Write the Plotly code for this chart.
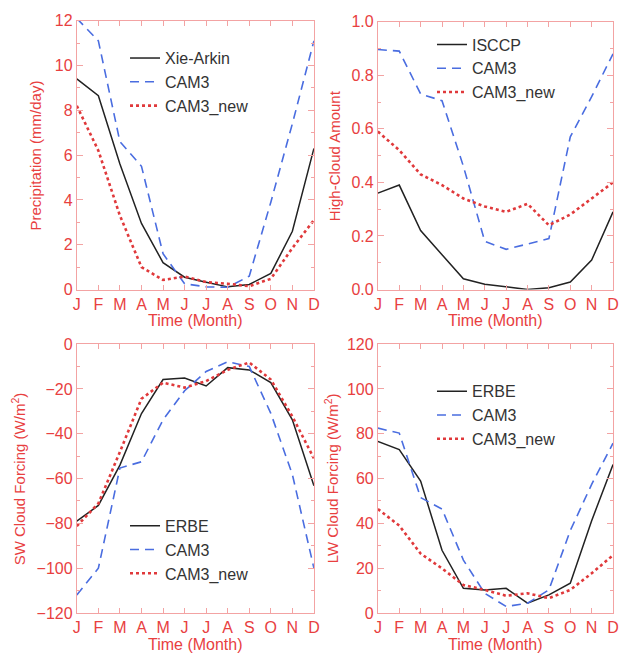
import plotly.graph_objects as go

months = list(range(1, 13))
month_labels = ["J", "F", "M", "A", "M", "J", "J", "A", "S", "O", "N", "D"]

# Panel 1: Precipitation (mm/day)
precip_xie = [9.4, 8.65, 5.6, 2.95, 1.2, 0.55, 0.33, 0.12, 0.23, 0.72, 2.6, 6.3]
precip_cam3 = [12.1, 11.1, 6.6, 5.5, 1.6, 0.26, 0.12, 0.1, 0.6, 3.9, 7.4, 11.1]
precip_new = [8.2, 6.2, 3.3, 1.0, 0.43, 0.58, 0.33, 0.26, 0.15, 0.48, 1.85, 3.1]

# Panel 2: High-cloud amount
hc_isccp = [0.36, 0.39, 0.22, 0.13, 0.04, 0.02, 0.01, 0.0, 0.007, 0.028, 0.11, 0.29]
hc_cam3 = [0.896, 0.89, 0.73, 0.705, 0.46, 0.18, 0.15, 0.17, 0.19, 0.57, 0.72, 0.88]
hc_new = [0.59, 0.52, 0.43, 0.39, 0.34, 0.31, 0.29, 0.32, 0.24, 0.28, 0.34, 0.40]

# Panel 3: SW cloud forcing (W/m2)
sw_erbe = [-79, -72, -54, -31, -15.8, -15.1, -18.7, -10.5, -11.5, -17.2, -33.8, -63.2]
sw_cam3 = [-112, -100, -55.3, -52.5, -33.8, -20.8, -12.2, -7.9, -10, -30.9, -58.2, -100]
sw_new = [-81.2, -71.1, -48.1, -24.4, -17.2, -19.4, -16.5, -11.5, -8.2, -15.8, -32.3, -51]

# Panel 4: LW cloud forcing (W/m2)
lw_erbe = [76.6, 72.9, 58.9, 28, 11, 10.3, 11, 4.4, 8.1, 13.3, 41.2, 66.3]
lw_cam3 = [82.5, 80.3, 51.5, 46.4, 23.6, 8.8, 2.9, 4.4, 10.3, 36.8, 57.4, 75.8]
lw_new = [46.4, 39, 26.5, 19.9, 12.5, 10.3, 7.7, 8.8, 6.6, 10.3, 17.7, 25.8]

panels = [
    dict(obs=("Xie-Arkin", precip_xie), cam3=precip_cam3, new=precip_new,
         yrange=[0, 12], dtick=2, minor=1, ytitle="Precipitation (mm/day)", fmt=""),
    dict(obs=("ISCCP", hc_isccp), cam3=hc_cam3, new=hc_new,
         yrange=[0, 1], dtick=0.2, minor=0.1, ytitle="High-Cloud Amount", fmt=".1f"),
    dict(obs=("ERBE", sw_erbe), cam3=sw_cam3, new=sw_new,
         yrange=[-120, 0], dtick=20, minor=10, ytitle="SW Cloud Forcing (W/m<sup>2</sup>)", fmt=""),
    dict(obs=("ERBE", lw_erbe), cam3=lw_cam3, new=lw_new,
         yrange=[0, 120], dtick=20, minor=10, ytitle="LW Cloud Forcing (W/m<sup>2</sup>)", fmt=""),
]

W, H = 621, 660
# plot boxes in pixels: (left, right, top, bottom)
boxes = [(74, 315, 13, 289), (380, 619, 14, 289), (74, 315, 345, 621), (380, 619, 345, 621)]
ytitle_x = [32, 336, 15, 333]
legend_pos = [(123, 34), (435, 20), (123, 514), (435, 376)]

RED = "#e8403f"
LINE = "#f3a3a3"
BLACK = "#222222"
BLUE = "#4a6de0"
DOTRED = "#e0393b"
FONT = "Liberation Sans, Arial, sans-serif"

fig = go.Figure()
layout = dict(width=W, height=H, margin=dict(l=0, r=0, t=0, b=0),
              paper_bgcolor="white", plot_bgcolor="white",
              font=dict(family=FONT), annotations=[])

for i, p in enumerate(panels):
    k = "" if i == 0 else str(i + 1)
    xa, ya = "x" + k, "y" + k
    leg = "legend" + k
    name_obs, vals_obs = p["obs"]
    fig.add_trace(go.Scatter(x=months, y=vals_obs, mode="lines", name=name_obs,
                             line=dict(color=BLACK, width=1.5), xaxis=xa, yaxis=ya, legend=leg))
    fig.add_trace(go.Scatter(x=months, y=p["cam3"], mode="lines", name="CAM3",
                             line=dict(color=BLUE, width=1.6, dash="9px,6px"), xaxis=xa, yaxis=ya, legend=leg))
    fig.add_trace(go.Scatter(x=months, y=p["new"], mode="lines", name="CAM3_new",
                             line=dict(color=DOTRED, width=2.6, dash="dot"), xaxis=xa, yaxis=ya, legend=leg))
    l, r, t, b = boxes[i]
    xdom = [l / W, r / W]
    ydom = [1 - b / H, 1 - t / H]
    layout["xaxis" + k] = dict(domain=xdom, range=[1, 12], anchor=ya,
                               tickvals=months, ticktext=month_labels,
                               ticks="inside", ticklen=5, tickcolor=LINE,
                               showline=True, linecolor=LINE, linewidth=1, mirror="allticks",
                               showgrid=False, zeroline=False,
                               tickfont=dict(size=16, color=RED, family=FONT))
    layout["yaxis" + k] = dict(domain=ydom, range=p["yrange"], anchor=xa,
                               dtick=p["dtick"], tick0=0, tickformat=p["fmt"],
                               ticks="inside", ticklen=6, tickcolor=LINE,
                               minor=dict(dtick=p["minor"], ticks="inside", ticklen=3, tickcolor=LINE),
                               showline=True, linecolor=LINE, linewidth=1, mirror="allticks",
                               showgrid=False, zeroline=False,
                               tickfont=dict(size=16, color=RED, family=FONT))
    lx, ly = legend_pos[i]
    layout[leg] = dict(x=lx / W, y=1 - ly / H, xanchor="left", yanchor="top",
                       bgcolor="rgba(0,0,0,0)", borderwidth=0,
                       font=dict(size=16, color="#333333", family=FONT),
                       tracegroupgap=0, itemwidth=30)
    # axis titles
    layout["annotations"].append(dict(text="Time (Month)", x=(l + r) / 2 / W, y=1 - (b + 32) / H,
                                      xref="paper", yref="paper", showarrow=False,
                                      xanchor="center", yanchor="middle",
                                      font=dict(size=16, color=RED, family=FONT)))
    layout["annotations"].append(dict(text=p["ytitle"], x=ytitle_x[i] / W, y=1 - (t + b) / 2 / H,
                                      xref="paper", yref="paper", showarrow=False, textangle=-90,
                                      xanchor="center", yanchor="middle",
                                      font=dict(size=15, color=RED, family=FONT)))

fig.update_layout(**layout)
fig.write_html("out.html")
